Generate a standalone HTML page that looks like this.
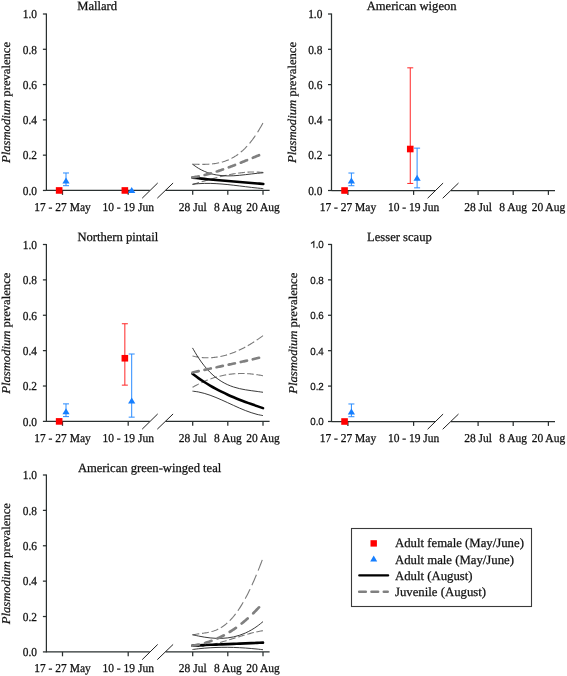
<!DOCTYPE html>
<html><head><meta charset="utf-8"><style>
html,body{margin:0;padding:0;background:#fff;overflow:hidden;}
svg{display:block;will-change:transform;}
text{font-family:"Liberation Serif",serif;fill:#111;stroke:#111;stroke-width:0.25px;text-rendering:geometricPrecision;}
.ti{font-size:12.6px;}
.tt{font-size:11.4px;}
.ts{font-family:"Liberation Sans",sans-serif;font-size:10.3px;}
.tx{font-size:11.5px;}
.yl{font-size:12.65px;}
.lg{font-size:12.75px;}
.ax{stroke:#2a3030;stroke-width:1.25;fill:none;}
.sl{stroke:#222;stroke-width:1;fill:none;}
.sth{stroke:#222;stroke-width:0.9;fill:none;}
.sbk{stroke:#000;stroke-width:2.6;fill:none;stroke-linecap:round;}
.dth{stroke:#7a7a7a;stroke-width:1.1;fill:none;}
.dbk{stroke:#808080;stroke-width:2.7;fill:none;stroke-linecap:round;}
</style></head><body>
<svg width="567" height="676" viewBox="0 0 567 676">
<rect width="567" height="676" fill="#fff"/>
<g transform="translate(0,0)">
<text x="77.2" y="10.3" class="ti">Mallard</text>
<path d="M46.4,13.5 V190.95" class="ax"/>
<path d="M42.9,190.45 H46.4" class="ax"/>
<text transform="translate(37,194.7) scale(1,1.07)" class="tt" text-anchor="end">0.0</text>
<path d="M42.9,155.16 H46.4" class="ax"/>
<text transform="translate(37,159.41) scale(1,1.07)" class="tt" text-anchor="end">0.2</text>
<path d="M42.9,119.87 H46.4" class="ax"/>
<text transform="translate(37,124.12) scale(1,1.07)" class="tt" text-anchor="end">0.4</text>
<path d="M42.9,84.58 H46.4" class="ax"/>
<text transform="translate(37,88.83) scale(1,1.07)" class="tt" text-anchor="end">0.6</text>
<path d="M42.9,49.29 H46.4" class="ax"/>
<text transform="translate(37,53.54) scale(1,1.07)" class="tt" text-anchor="end">0.8</text>
<path d="M42.9,14 H46.4" class="ax"/>
<text transform="translate(37,18.25) scale(1,1.07)" class="tt" text-anchor="end">1.0</text>
<path d="M46.4,190.45 H149.8 M165.6,190.45 H269.6" class="ax"/>
<path d="M62.5,190.45 V194.85" class="ax"/>
<text transform="translate(62.5,210.8) scale(1,1.05)" class="tx" text-anchor="middle">17 - 27 May</text>
<path d="M128.2,190.45 V194.85" class="ax"/>
<text transform="translate(128.2,210.8) scale(1,1.05)" class="tx" text-anchor="middle">10 - 19 Jun</text>
<path d="M192.7,190.45 V194.85" class="ax"/>
<text transform="translate(192.7,210.8) scale(1,1.05)" class="tx" text-anchor="middle">28 Jul</text>
<path d="M227.8,190.45 V194.85" class="ax"/>
<text transform="translate(227.8,210.8) scale(1,1.05)" class="tx" text-anchor="middle">8 Aug</text>
<path d="M263,190.45 V194.85" class="ax"/>
<text transform="translate(263,210.8) scale(1,1.05)" class="tx" text-anchor="middle">20 Aug</text>
<path d="M142.2,198.2 L157.7,183" class="sl"/>
<path d="M157.3,198.2 L173.1,183" class="sl"/>
<text transform="translate(10.3,102.47) rotate(-90) scale(1,0.94)" class="yl" text-anchor="middle"><tspan font-style="italic">Plasmodium</tspan> prevalence</text>
<path d="M192.5,164.2L192.62,164.2L193.79,164.23L194.97,164.26L196.14,164.29L197.32,164.32L198.49,164.34L199.52,164.35M202.31,164.37L202.37,164.37L203.55,164.36L204.72,164.34L205.9,164.31L207.07,164.27L208.25,164.22L209.33,164.15M212.11,163.92L212.13,163.92L213.3,163.79L214.48,163.64L215.65,163.47L216.83,163.27L218,163.05L219.11,162.82M221.87,162.15L221.88,162.14L223.06,161.81L224.23,161.44L225.41,161.04L226.58,160.6L227.76,160.13L228.79,159.69M231.5,158.39L231.52,158.38L232.58,157.81L233.64,157.21L234.69,156.57L235.75,155.9L236.81,155.19L237.87,154.45L238.19,154.21M240.79,152.17L240.8,152.16L241.86,151.26L242.92,150.32L243.98,149.33L245.04,148.3L246.09,147.22L247.12,146.13M249.54,143.37L249.62,143.28L250.56,142.13L251.5,140.94L252.44,139.72L253.38,138.44L254.32,137.13L255.26,135.77L255.38,135.59M257.6,132.2L257.61,132.18L258.43,130.85L259.26,129.49L260.08,128.09L260.9,126.66L261.72,125.18L262.55,123.67L262.9,123.01" class="dth"/>
<path d="M192.5,184.46L192.62,184.43L193.68,184.12L194.75,183.82L195.81,183.51L196.87,183.21L197.94,182.9L199,182.59L199.04,182.58M201.63,181.84L201.72,181.81L202.78,181.5L203.85,181.2L204.91,180.89L205.97,180.59L207.04,180.29L208.1,179.98L208.17,179.97M210.76,179.24L210.82,179.22L211.88,178.93L212.95,178.64L214.01,178.35L215.08,178.07L216.14,177.79L217.2,177.51L217.31,177.48M219.91,176.82L219.92,176.82L220.99,176.56L222.05,176.3L223.11,176.05L224.18,175.8L225.24,175.56L226.3,175.32L226.47,175.29M229.08,174.74L229.14,174.72L230.2,174.51L231.27,174.3L232.33,174.1L233.4,173.91L234.46,173.73L235.52,173.55L235.65,173.53M238.27,173.13L238.36,173.12L239.42,172.98L240.49,172.84L241.55,172.71L242.62,172.59L243.68,172.49L244.74,172.39L244.86,172.38M247.48,172.18L247.58,172.17L248.64,172.11L249.71,172.07L250.77,172.03L251.83,172L252.9,171.99L253.96,171.98L254.08,171.98M256.7,172.03L256.8,172.04L257.86,172.08L258.93,172.14L259.99,172.21L261.05,172.29L262.12,172.39L263.18,172.5L263.3,172.51" class="dth"/>
<path d="M192.5,164.23 C193.48,164.91 196.43,167.09 198.4,168.26 C200.37,169.44 202.33,170.44 204.3,171.31 C206.27,172.18 208.23,172.88 210.2,173.48 C212.17,174.08 214.13,174.53 216.1,174.89 C218.07,175.26 220.03,175.5 222,175.67 C223.97,175.84 225.93,175.9 227.9,175.91 C229.87,175.93 231.83,175.85 233.8,175.75 C235.77,175.65 237.73,175.47 239.7,175.29 C241.67,175.11 243.63,174.87 245.6,174.65 C247.57,174.43 249.53,174.17 251.5,173.95 C253.47,173.72 255.43,173.48 257.4,173.29 C259.37,173.1 262.32,172.88 263.3,172.8" class="sth"/>
<path d="M192.5,184.27 C193.48,184.17 196.43,183.83 198.4,183.68 C200.37,183.54 202.33,183.45 204.3,183.41 C206.27,183.36 208.23,183.37 210.2,183.4 C212.17,183.44 214.13,183.52 216.1,183.63 C218.07,183.73 220.03,183.88 222,184.04 C223.97,184.2 225.93,184.39 227.9,184.59 C229.87,184.79 231.83,185.02 233.8,185.25 C235.77,185.48 237.73,185.72 239.7,185.96 C241.67,186.21 243.63,186.46 245.6,186.7 C247.57,186.94 249.53,187.18 251.5,187.41 C253.47,187.64 255.43,187.86 257.4,188.06 C259.37,188.25 262.32,188.51 263.3,188.6" class="sth"/>
<path d="M192.5,177.6 C193.48,177.71 196.43,178.06 198.4,178.27 C200.37,178.49 202.33,178.69 204.3,178.89 C206.27,179.09 208.23,179.29 210.2,179.48 C212.17,179.66 214.13,179.84 216.1,180.02 C218.07,180.2 220.03,180.37 222,180.54 C223.97,180.71 225.93,180.88 227.9,181.04 C229.87,181.21 231.83,181.37 233.8,181.53 C235.77,181.69 237.73,181.85 239.7,182.01 C241.67,182.17 243.63,182.33 245.6,182.49 C247.57,182.65 249.53,182.81 251.5,182.97 C253.47,183.14 255.43,183.3 257.4,183.47 C259.37,183.64 262.32,183.91 263.3,184" class="sbk"/>
<path d="M192.5,177.41L192.61,177.39L193.61,177.23L194.61,177.07L195.61,176.89L196.61,176.71L197.61,176.52L198.61,176.32L198.74,176.29M204.68,174.95L204.71,174.94L205.71,174.69L206.71,174.43L207.71,174.16L208.71,173.89L209.71,173.62L210.71,173.34L210.89,173.28M216.79,171.49L216.81,171.49L217.81,171.16L218.81,170.84L219.81,170.51L220.81,170.17L221.81,169.83L222.81,169.48L222.98,169.43M228.85,167.31L228.91,167.29L229.91,166.92L230.91,166.54L231.91,166.16L232.91,165.78L233.91,165.4L234.91,165.01L235.01,164.97M240.87,162.66L240.9,162.64L241.9,162.24L242.9,161.84L243.9,161.43L244.9,161.03L245.9,160.62L246.9,160.21L247.01,160.16M252.86,157.76L252.89,157.75L253.89,157.34L254.89,156.92L255.89,156.51L256.89,156.1L257.89,155.69L258.89,155.28L259,155.24" class="dbk"/>
<rect x="55.85" y="187.15" width="6.6" height="6.6" fill="#ff0000"/>
<path d="M66,172.98 V185.69 M63,172.98 H69 M63,185.69 H69" stroke="#2a8cff" stroke-width="1" fill="none"/>
<path d="M66,177.44 L69.6,183.44 L62.4,183.44 Z" fill="#167fff"/>
<rect x="121.55" y="187.15" width="6.6" height="6.6" fill="#ff0000"/>
<path d="M131.7,186.97 L135.3,192.97 L128.1,192.97 Z" fill="#167fff"/>
</g>
<g transform="translate(285.4,0.05)">
<text x="81.3" y="10.3" class="ti">American wigeon</text>
<path d="M46.1,13.45 V190.95" class="ax"/>
<path d="M42.6,190.45 H46.1" class="ax"/>
<text transform="translate(37,194.7) scale(1,1.07)" class="tt" text-anchor="end">0.0</text>
<path d="M42.6,155.15 H46.1" class="ax"/>
<text transform="translate(37,159.4) scale(1,1.07)" class="tt" text-anchor="end">0.2</text>
<path d="M42.6,119.85 H46.1" class="ax"/>
<text transform="translate(37,124.1) scale(1,1.07)" class="tt" text-anchor="end">0.4</text>
<path d="M42.6,84.55 H46.1" class="ax"/>
<text transform="translate(37,88.8) scale(1,1.07)" class="tt" text-anchor="end">0.6</text>
<path d="M42.6,49.25 H46.1" class="ax"/>
<text transform="translate(37,53.5) scale(1,1.07)" class="tt" text-anchor="end">0.8</text>
<path d="M42.6,13.95 H46.1" class="ax"/>
<text transform="translate(37,18.2) scale(1,1.07)" class="tt" text-anchor="end">1.0</text>
<path d="M46.1,190.45 H149.8 M165.6,190.45 H269.6" class="ax"/>
<path d="M62.5,190.45 V194.85" class="ax"/>
<text transform="translate(62.5,210.8) scale(1,1.05)" class="tx" text-anchor="middle">17 - 27 May</text>
<path d="M128.2,190.45 V194.85" class="ax"/>
<text transform="translate(128.2,210.8) scale(1,1.05)" class="tx" text-anchor="middle">10 - 19 Jun</text>
<path d="M192.7,190.45 V194.85" class="ax"/>
<text transform="translate(192.7,210.8) scale(1,1.05)" class="tx" text-anchor="middle">28 Jul</text>
<path d="M227.8,190.45 V194.85" class="ax"/>
<text transform="translate(227.8,210.8) scale(1,1.05)" class="tx" text-anchor="middle">8 Aug</text>
<path d="M263,190.45 V194.85" class="ax"/>
<text transform="translate(263,210.8) scale(1,1.05)" class="tx" text-anchor="middle">20 Aug</text>
<path d="M142.2,198.2 L157.7,183" class="sl"/>
<path d="M157.3,198.2 L173.1,183" class="sl"/>
<text transform="translate(10.3,102.45) rotate(-90) scale(1,0.94)" class="yl" text-anchor="middle"><tspan font-style="italic">Plasmodium</tspan> prevalence</text>
<rect x="55.85" y="187.15" width="6.6" height="6.6" fill="#ff0000"/>
<path d="M66,172.98 V185.68 M63,172.98 H69 M63,185.68 H69" stroke="#2a8cff" stroke-width="1" fill="none"/>
<path d="M66,177.44 L69.6,183.44 L62.4,183.44 Z" fill="#167fff"/>
<path d="M124.85,67.78 V183.39 M121.85,67.78 H127.85 M121.85,183.39 H127.85" stroke="#ff2626" stroke-width="1" fill="none"/>
<rect x="121.55" y="145.67" width="6.6" height="6.6" fill="#ff0000"/>
<path d="M131.7,148.09 V187.8 M128.7,148.09 H134.7 M128.7,187.8 H134.7" stroke="#2a8cff" stroke-width="1" fill="none"/>
<path d="M131.7,174.62 L135.3,180.62 L128.1,180.62 Z" fill="#167fff"/>
</g>
<g transform="translate(0,230.95)">
<text x="77.4" y="10.3" class="ti">Northern pintail</text>
<path d="M46.4,13.05 V190.95" class="ax"/>
<path d="M42.9,190.45 H46.4" class="ax"/>
<text transform="translate(37,194.7) scale(1,1.07)" class="tt" text-anchor="end">0.0</text>
<path d="M42.9,155.07 H46.4" class="ax"/>
<text transform="translate(37,159.32) scale(1,1.07)" class="tt" text-anchor="end">0.2</text>
<path d="M42.9,119.69 H46.4" class="ax"/>
<text transform="translate(37,123.94) scale(1,1.07)" class="tt" text-anchor="end">0.4</text>
<path d="M42.9,84.31 H46.4" class="ax"/>
<text transform="translate(37,88.56) scale(1,1.07)" class="tt" text-anchor="end">0.6</text>
<path d="M42.9,48.93 H46.4" class="ax"/>
<text transform="translate(37,53.18) scale(1,1.07)" class="tt" text-anchor="end">0.8</text>
<path d="M42.9,13.55 H46.4" class="ax"/>
<text transform="translate(37,17.8) scale(1,1.07)" class="tt" text-anchor="end">1.0</text>
<path d="M46.4,190.45 H149.8 M165.6,190.45 H269.6" class="ax"/>
<path d="M62.5,190.45 V194.85" class="ax"/>
<text transform="translate(62.5,210.8) scale(1,1.05)" class="tx" text-anchor="middle">17 - 27 May</text>
<path d="M128.2,190.45 V194.85" class="ax"/>
<text transform="translate(128.2,210.8) scale(1,1.05)" class="tx" text-anchor="middle">10 - 19 Jun</text>
<path d="M192.7,190.45 V194.85" class="ax"/>
<text transform="translate(192.7,210.8) scale(1,1.05)" class="tx" text-anchor="middle">28 Jul</text>
<path d="M227.8,190.45 V194.85" class="ax"/>
<text transform="translate(227.8,210.8) scale(1,1.05)" class="tx" text-anchor="middle">8 Aug</text>
<path d="M263,190.45 V194.85" class="ax"/>
<text transform="translate(263,210.8) scale(1,1.05)" class="tx" text-anchor="middle">20 Aug</text>
<path d="M142.2,198.2 L157.7,183" class="sl"/>
<path d="M157.3,198.2 L173.1,183" class="sl"/>
<text transform="translate(10.3,102.25) rotate(-90) scale(1,0.94)" class="yl" text-anchor="middle"><tspan font-style="italic">Plasmodium</tspan> prevalence</text>
<path d="M192.5,125.02L192.62,125.04L193.68,125.3L194.74,125.54L195.8,125.75L196.85,125.95L197.91,126.13L198.97,126.28L199.14,126.31M201.79,126.61L201.8,126.61L202.86,126.7L203.92,126.77L204.98,126.82L206.04,126.85L207.09,126.87L208.15,126.86L208.46,126.86M211.11,126.75L211.21,126.75L212.27,126.67L213.33,126.58L214.39,126.47L215.45,126.34L216.51,126.2L217.57,126.04L217.77,126M220.41,125.52L220.51,125.5L221.57,125.27L222.63,125.03L223.69,124.77L224.75,124.5L225.81,124.21L226.87,123.9L227.03,123.85M229.65,123.02L229.69,123.01L230.75,122.64L231.81,122.26L232.87,121.86L233.93,121.45L234.99,121.03L236.05,120.59L236.2,120.52M238.79,119.38L238.87,119.34L239.93,118.84L240.99,118.33L242.05,117.81L243.11,117.27L244.17,116.72L245.23,116.15L245.26,116.13M247.81,114.71L247.82,114.71L248.88,114.1L249.94,113.47L250.99,112.83L252.05,112.18L253.11,111.51L254.17,110.83L254.2,110.82M256.71,109.15L256.76,109.12L257.82,108.4L258.88,107.66L259.94,106.91L261,106.15L262.06,105.38L263,104.69" class="dth"/>
<path d="M192.5,156.38L192.62,156.31L193.68,155.7L194.74,155.11L195.8,154.53L196.85,153.97L197.91,153.42L198.87,152.93M201.42,151.7L201.44,151.69L202.5,151.2L203.56,150.73L204.62,150.27L205.68,149.82L206.74,149.39L207.8,148.97L207.88,148.94M210.46,147.98L210.51,147.97L211.57,147.6L212.63,147.24L213.69,146.9L214.74,146.57L215.8,146.26L216.86,145.96L216.98,145.93M219.58,145.25L219.69,145.22L220.75,144.97L221.81,144.73L222.87,144.5L223.92,144.29L224.98,144.09L226.04,143.9L226.15,143.88M228.77,143.47L228.87,143.46L229.93,143.32L230.99,143.19L232.05,143.07L233.11,142.96L234.16,142.87L235.22,142.79L235.36,142.78M237.98,142.64L238.05,142.63L239.11,142.6L240.17,142.57L241.23,142.56L242.29,142.56L243.34,142.57L244.4,142.59L244.59,142.6M247.21,142.71L247.23,142.71L248.29,142.77L249.35,142.85L250.41,142.94L251.47,143.03L252.53,143.14L253.58,143.26L253.81,143.29M256.42,143.64L256.53,143.65L257.59,143.81L258.65,143.99L259.7,144.17L260.76,144.36L261.82,144.56L262.88,144.78L263,144.8" class="dth"/>
<path d="M192.5,116.95 C193.48,118.58 196.42,123.76 198.38,126.75 C200.33,129.73 202.29,132.4 204.25,134.85 C206.21,137.3 208.17,139.46 210.12,141.43 C212.08,143.4 214.04,145.11 216,146.66 C217.96,148.21 219.92,149.54 221.88,150.73 C223.83,151.92 225.79,152.91 227.75,153.8 C229.71,154.69 231.67,155.41 233.62,156.06 C235.58,156.71 237.54,157.22 239.5,157.68 C241.46,158.15 243.42,158.5 245.38,158.84 C247.33,159.18 249.29,159.44 251.25,159.72 C253.21,159.99 255.17,160.22 257.12,160.49 C259.08,160.76 262.02,161.19 263,161.33" class="sth"/>
<path d="M192.5,160.2 C193.48,160.33 196.41,160.63 198.37,161 C200.32,161.36 202.28,161.85 204.23,162.4 C206.19,162.94 208.14,163.59 210.1,164.28 C212.06,164.98 214.01,165.75 215.97,166.55 C217.92,167.35 219.88,168.21 221.83,169.07 C223.79,169.94 225.74,170.85 227.7,171.75 C229.66,172.65 231.61,173.57 233.57,174.46 C235.52,175.35 237.48,176.25 239.43,177.1 C241.39,177.94 243.34,178.78 245.3,179.55 C247.26,180.31 249.21,181.05 251.17,181.69 C253.12,182.34 255.08,182.94 257.03,183.43 C258.99,183.92 261.92,184.43 262.9,184.63" class="sth"/>
<path d="M192.5,142.82 C193.48,143.54 196.42,145.75 198.38,147.13 C200.33,148.5 202.29,149.81 204.25,151.06 C206.21,152.32 208.17,153.52 210.12,154.67 C212.08,155.82 214.04,156.91 216,157.96 C217.96,159.02 219.92,160.02 221.88,160.99 C223.83,161.96 225.79,162.88 227.75,163.77 C229.71,164.67 231.67,165.52 233.62,166.35 C235.58,167.18 237.54,167.97 239.5,168.74 C241.46,169.52 243.42,170.26 245.38,170.99 C247.33,171.72 249.29,172.43 251.25,173.13 C253.21,173.83 255.17,174.51 257.12,175.18 C259.08,175.86 262.02,176.85 263,177.18" class="sbk"/>
<path d="M192.5,141.55L192.61,141.52L193.61,141.3L194.61,141.07L195.61,140.85L196.61,140.63L197.61,140.4L198.61,140.18L198.68,140.17M204.56,138.88L204.6,138.87L205.6,138.65L206.6,138.43L207.6,138.22L208.6,138L209.6,137.79L210.6,137.57L210.75,137.54M216.63,136.28L216.7,136.27L217.7,136.05L218.7,135.84L219.7,135.63L220.7,135.41L221.7,135.2L222.7,134.99L222.82,134.96M228.7,133.7L228.8,133.68L229.8,133.46L230.8,133.25L231.8,133.03L232.8,132.81L233.8,132.59L234.8,132.38L234.88,132.36M240.77,131.06L240.79,131.05L241.79,130.83L242.79,130.6L243.79,130.38L244.79,130.15L245.79,129.92L246.79,129.7L246.95,129.66M252.83,128.29L252.89,128.27L253.89,128.03L254.89,127.8L255.89,127.55L256.89,127.31L257.89,127.07L258.89,126.82L259,126.8" class="dbk"/>
<rect x="55.85" y="187.15" width="6.6" height="6.6" fill="#ff0000"/>
<path d="M66,172.94 V185.67 M63,172.94 H69 M63,185.67 H69" stroke="#2a8cff" stroke-width="1" fill="none"/>
<path d="M66,177.42 L69.6,183.42 L62.4,183.42 Z" fill="#167fff"/>
<path d="M124.85,92.8 V154.19 M121.85,92.8 H127.85 M121.85,154.19 H127.85" stroke="#ff2626" stroke-width="1" fill="none"/>
<rect x="121.55" y="124" width="6.6" height="6.6" fill="#ff0000"/>
<path d="M131.7,123.05 V186.2 M128.7,123.05 H134.7 M128.7,186.2 H134.7" stroke="#2a8cff" stroke-width="1" fill="none"/>
<path d="M131.7,166.63 L135.3,172.63 L128.1,172.63 Z" fill="#167fff"/>
</g>
<g transform="translate(285.4,231.05)">
<text x="81.7" y="10.3" class="ti">Lesser scaup</text>
<path d="M46.1,12.9 V190.95" class="ax"/>
<path d="M42.6,190.45 H46.1" class="ax"/>
<text transform="translate(38.4,194.3) scale(0.95,1)" class="ts" text-anchor="end">0.0</text>
<path d="M42.6,155.04 H46.1" class="ax"/>
<text transform="translate(38.4,158.89) scale(0.95,1)" class="ts" text-anchor="end">0.2</text>
<path d="M42.6,119.63 H46.1" class="ax"/>
<text transform="translate(38.4,123.48) scale(0.95,1)" class="ts" text-anchor="end">0.4</text>
<path d="M42.6,84.22 H46.1" class="ax"/>
<text transform="translate(38.4,88.07) scale(0.95,1)" class="ts" text-anchor="end">0.6</text>
<path d="M42.6,48.81 H46.1" class="ax"/>
<text transform="translate(38.4,52.66) scale(0.95,1)" class="ts" text-anchor="end">0.8</text>
<path d="M42.6,13.4 H46.1" class="ax"/>
<path d="M25.6,12.5 L28.45,10.5 V16.8" stroke="#222" stroke-width="1.15" fill="none"/>
<text transform="translate(38.4,17.25) scale(0.95,1)" class="ts" text-anchor="end">.0</text>
<path d="M46.1,190.45 H149.8 M165.6,190.45 H269.6" class="ax"/>
<path d="M62.5,190.45 V194.85" class="ax"/>
<text transform="translate(62.5,210.8) scale(1,1.05)" class="tx" text-anchor="middle">17 - 27 May</text>
<path d="M128.2,190.45 V194.85" class="ax"/>
<text transform="translate(128.2,210.8) scale(1,1.05)" class="tx" text-anchor="middle">10 - 19 Jun</text>
<path d="M192.7,190.45 V194.85" class="ax"/>
<text transform="translate(192.7,210.8) scale(1,1.05)" class="tx" text-anchor="middle">28 Jul</text>
<path d="M227.8,190.45 V194.85" class="ax"/>
<text transform="translate(227.8,210.8) scale(1,1.05)" class="tx" text-anchor="middle">8 Aug</text>
<path d="M263,190.45 V194.85" class="ax"/>
<text transform="translate(263,210.8) scale(1,1.05)" class="tx" text-anchor="middle">20 Aug</text>
<path d="M142.2,198.2 L157.7,183" class="sl"/>
<path d="M157.3,198.2 L173.1,183" class="sl"/>
<text transform="translate(12,102.17) rotate(-90) scale(1,0.94)" class="yl" text-anchor="middle"><tspan font-style="italic">Plasmodium</tspan> prevalence</text>
<rect x="55.85" y="187.15" width="6.6" height="6.6" fill="#ff0000"/>
<path d="M66,172.92 V185.67 M63,172.92 H69 M63,185.67 H69" stroke="#2a8cff" stroke-width="1" fill="none"/>
<path d="M66,177.41 L69.6,183.41 L62.4,183.41 Z" fill="#167fff"/>
</g>
<g transform="translate(0,461.45)">
<text x="77.9" y="10.3" class="ti">American green-winged teal</text>
<path d="M46.4,13.05 V190.95" class="ax"/>
<path d="M42.9,190.45 H46.4" class="ax"/>
<text transform="translate(37,194.7) scale(1,1.07)" class="tt" text-anchor="end">0.0</text>
<path d="M42.9,155.07 H46.4" class="ax"/>
<text transform="translate(37,159.32) scale(1,1.07)" class="tt" text-anchor="end">0.2</text>
<path d="M42.9,119.69 H46.4" class="ax"/>
<text transform="translate(37,123.94) scale(1,1.07)" class="tt" text-anchor="end">0.4</text>
<path d="M42.9,84.31 H46.4" class="ax"/>
<text transform="translate(37,88.56) scale(1,1.07)" class="tt" text-anchor="end">0.6</text>
<path d="M42.9,48.93 H46.4" class="ax"/>
<text transform="translate(37,53.18) scale(1,1.07)" class="tt" text-anchor="end">0.8</text>
<path d="M42.9,13.55 H46.4" class="ax"/>
<text transform="translate(37,17.8) scale(1,1.07)" class="tt" text-anchor="end">1.0</text>
<path d="M46.4,190.45 H149.8 M165.6,190.45 H269.6" class="ax"/>
<path d="M62.5,190.45 V194.85" class="ax"/>
<text transform="translate(62.5,210.8) scale(1,1.05)" class="tx" text-anchor="middle">17 - 27 May</text>
<path d="M128.2,190.45 V194.85" class="ax"/>
<text transform="translate(128.2,210.8) scale(1,1.05)" class="tx" text-anchor="middle">10 - 19 Jun</text>
<path d="M192.7,190.45 V194.85" class="ax"/>
<text transform="translate(192.7,210.8) scale(1,1.05)" class="tx" text-anchor="middle">28 Jul</text>
<path d="M227.8,190.45 V194.85" class="ax"/>
<text transform="translate(227.8,210.8) scale(1,1.05)" class="tx" text-anchor="middle">8 Aug</text>
<path d="M263,190.45 V194.85" class="ax"/>
<text transform="translate(263,210.8) scale(1,1.05)" class="tx" text-anchor="middle">20 Aug</text>
<path d="M142.2,198.2 L157.7,183" class="sl"/>
<path d="M157.3,198.2 L173.1,183" class="sl"/>
<text transform="translate(10.3,102.25) rotate(-90) scale(1,0.94)" class="yl" text-anchor="middle"><tspan font-style="italic">Plasmodium</tspan> prevalence</text>
<path d="M192.5,173.58L192.62,173.55L193.78,173.28L194.95,173.04L196.11,172.82L197.28,172.63L198.44,172.45L199.3,172.32M202,171.95L202.06,171.94L203.22,171.77L204.39,171.6L205.55,171.42L206.72,171.22L207.88,171L208.81,170.81M211.5,170.15L211.61,170.12L212.66,169.82L213.71,169.48L214.76,169.11L215.81,168.71L216.85,168.27L217.9,167.79L218.21,167.64M220.83,166.24L220.93,166.18L221.98,165.53L223.03,164.84L224.08,164.1L225.13,163.31L226.18,162.46L227.23,161.57L227.24,161.56M229.7,159.25L229.79,159.15L230.72,158.19L231.65,157.19L232.59,156.14L233.52,155.04L234.45,153.89L235.38,152.7L235.6,152.41M237.84,149.34L237.95,149.19L238.88,147.82L239.81,146.4L240.74,144.94L241.67,143.43L242.61,141.87L243.19,140.87M245.21,137.25L245.29,137.12L246.1,135.6L246.92,134.04L247.73,132.44L248.55,130.81L249.37,129.15L250.08,127.67M251.92,123.7L251.93,123.69L252.63,122.14L253.33,120.57L254.03,118.97L254.73,117.36L255.42,115.71L256.12,114.05L256.4,113.38M258.11,109.18L258.22,108.91L258.92,107.16L259.62,105.38L260.32,103.59L261.02,101.77L261.72,99.93L262.3,98.39" class="dth"/>
<path d="M192.5,185.04L192.62,185.04L193.68,185.06L194.74,185.07L195.8,185.05L196.85,185.02L197.91,184.97L198.97,184.91L199.09,184.9M201.7,184.67L201.8,184.66L202.86,184.54L203.92,184.41L204.98,184.26L206.04,184.11L207.09,183.93L208.15,183.75L208.27,183.73M210.87,183.23L210.98,183.21L212.04,182.98L213.1,182.75L214.16,182.51L215.22,182.26L216.27,182L217.33,181.73L217.42,181.71M220.01,181.02L220.04,181.01L221.1,180.72L222.16,180.42L223.22,180.12L224.28,179.81L225.34,179.5L226.4,179.18L226.53,179.14M229.12,178.35L229.22,178.32L230.28,177.99L231.34,177.66L232.4,177.33L233.46,177L234.52,176.67L235.58,176.33L235.63,176.32M238.21,175.51L238.28,175.49L239.34,175.16L240.4,174.83L241.46,174.51L242.52,174.19L243.58,173.87L244.64,173.56L244.72,173.53M247.31,172.79L247.35,172.78L248.41,172.48L249.46,172.2L250.52,171.91L251.58,171.64L252.64,171.37L253.7,171.11L253.84,171.08M256.44,170.48L256.53,170.46L257.59,170.23L258.65,170.02L259.7,169.81L260.76,169.61L261.82,169.43L262.88,169.26L263,169.24" class="dth"/>
<path d="M192.5,173.25 C193.48,173.47 196.42,174.17 198.38,174.57 C200.33,174.97 202.29,175.34 204.25,175.66 C206.21,175.97 208.17,176.24 210.12,176.45 C212.08,176.65 214.04,176.81 216,176.88 C217.96,176.96 219.92,176.98 221.88,176.9 C223.83,176.83 225.79,176.68 227.75,176.44 C229.71,176.2 231.67,175.87 233.62,175.44 C235.58,175 237.54,174.48 239.5,173.84 C241.46,173.19 243.42,172.45 245.38,171.57 C247.33,170.69 249.29,169.71 251.25,168.58 C253.21,167.45 255.17,166.2 257.12,164.81 C259.08,163.41 262.02,160.95 263,160.18" class="sth"/>
<path d="M192.5,188.09 C193.48,187.96 196.42,187.56 198.38,187.33 C200.33,187.11 202.29,186.91 204.25,186.74 C206.21,186.57 208.17,186.43 210.12,186.31 C212.08,186.19 214.04,186.09 216,186.02 C217.96,185.95 219.92,185.9 221.88,185.88 C223.83,185.85 225.79,185.85 227.75,185.87 C229.71,185.89 231.67,185.93 233.62,185.99 C235.58,186.05 237.54,186.13 239.5,186.23 C241.46,186.33 243.42,186.45 245.38,186.59 C247.33,186.72 249.29,186.88 251.25,187.05 C253.21,187.22 255.17,187.41 257.12,187.61 C259.08,187.82 262.02,188.16 263,188.27" class="sth"/>
<path d="M192.5,184.15 C193.48,184.11 196.42,183.97 198.38,183.88 C200.33,183.79 202.29,183.7 204.25,183.62 C206.21,183.53 208.17,183.45 210.12,183.37 C212.08,183.29 214.04,183.21 216,183.13 C217.96,183.05 219.92,182.97 221.88,182.89 C223.83,182.82 225.79,182.74 227.75,182.66 C229.71,182.59 231.67,182.51 233.62,182.43 C235.58,182.35 237.54,182.28 239.5,182.2 C241.46,182.12 243.42,182.04 245.38,181.95 C247.33,181.87 249.29,181.79 251.25,181.7 C253.21,181.61 255.17,181.53 257.12,181.43 C259.08,181.34 262.02,181.2 263,181.15" class="sbk"/>
<path d="M192.5,184.24L192.61,184.23L193.72,184.05L194.83,183.87L195.94,183.67L197.05,183.46L198.16,183.23L198.95,183.06M205.08,181.5L205.16,181.48L206.16,181.18L207.15,180.88L208.15,180.56L209.15,180.22L210.15,179.88L211.15,179.52L211.47,179.4M217.52,176.94L217.59,176.91L218.59,176.46L219.59,175.99L220.59,175.51L221.59,175.02L222.59,174.51L223.59,173.99L223.81,173.87M229.75,170.47L229.8,170.43L230.8,169.81L231.8,169.17L232.8,168.52L233.8,167.86L234.8,167.17L235.8,166.48L235.9,166.4M241.68,162.07L241.68,162.07L242.68,161.26L243.68,160.45L244.68,159.61L245.68,158.76L246.68,157.9L247.65,157.04M253.24,151.8L253.34,151.71L254.23,150.82L255.11,149.93L256,149.02L256.89,148.1L257.78,147.16L258.67,146.22L259,145.86" class="dbk"/>
</g>
<rect x="351.5" y="528.5" width="180" height="78" fill="none" stroke="#3a3a3a" stroke-width="1.1"/>
<rect x="370.5" y="540.2" width="6.4" height="6.4" fill="#ff0000"/>
<path d="M373.7,555.52 L377.2,561.52 L370.2,561.52 Z" fill="#167fff"/>
<path d="M359.3,575.4 H388.1" stroke="#000" stroke-width="2.3" stroke-linecap="round"/>
<path d="M359.2,591.7 H387.7" stroke="#808080" stroke-width="2.6" stroke-linecap="round" stroke-dasharray="6.6,5.7"/>
<text x="395.0" y="547.2" class="lg">Adult female (May/June)</text>
<text x="395.0" y="563.7" class="lg">Adult male (May/June)</text>
<text x="395.0" y="579.9" class="lg">Adult (August)</text>
<text x="395.0" y="595.5" class="lg">Juvenile (August)</text>
</svg>
</body></html>
